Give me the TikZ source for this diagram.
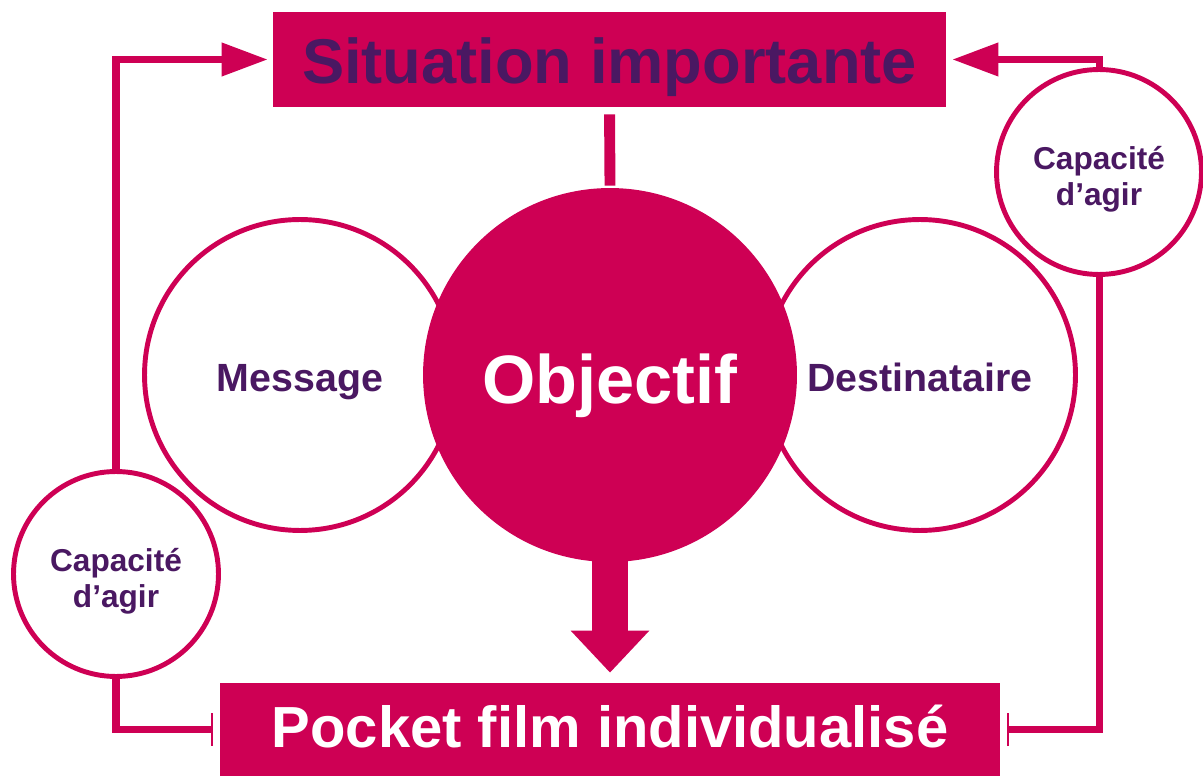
\documentclass[tikz,border=0pt]{standalone}
\usepackage{fontspec}
\setmainfont{Liberation Sans}
\usetikzlibrary{arrows.meta}
\definecolor{rose}{RGB}{206,0,84}
\definecolor{prune}{RGB}{74,24,98}

\begin{document}
\begin{tikzpicture}[x=0.02cm, y=-0.02cm,
	boite/.style={fill=rose, inner sep=0pt, text depth=0pt, font=\bfseries},
	rond/.style={circle, draw=rose, line width=2.8pt, inner sep=0pt, text=prune, font=\fontsize{22.4}{26}\selectfont\bfseries},
	grand/.style={rond, minimum size=6.22cm, text height=0.68cm, text depth=0pt},
	petit/.style={rond, minimum size=4.1cm, align=center, font=\fontsize{18}{20.6}\selectfont\bfseries},
	lien/.style={draw=rose, line width=4pt}]
	\useasboundingbox (0,0) rectangle (1203,776);
	
	\node[boite, minimum width=13.46cm, minimum height=1.9cm, text height=0.98cm, text=prune, font=\fontsize{36}{40}\selectfont\bfseries] (situation) at (609.5,59.5) {Situation importante};
	\node[boite, minimum width=15.6cm, minimum height=1.86cm, text height=0.7cm, text=white, font=\fontsize{33}{36}\selectfont\bfseries] (pocket) at (610,729.5) {Pocket film individualisé};
	
	\node[grand] (message) at (300,375) {Message};
	\node[grand] (destinataire) at (920,375) {Destinataire};
	\node[rond, fill=rose, draw=none, minimum size=7.48cm, text height=1.16cm, text depth=0pt, text=white, font=\fontsize{39}{42}\selectfont\bfseries] (objectif) at (610,375) {Objectif};
	
	\node[petit] (capaciteG) at (116,574) {\rule{0pt}{0.74cm}Capacité\\d’agir};
	\node[petit] (capaciteD) at (1099,172) {\rule{0pt}{0.74cm}Capacité\\d’agir};
	
	% liens
	\draw[lien, line width=6.2pt, shorten <=0.14cm] (situation.south) -- (objectif.north);
	\draw[lien, line width=20.4pt, -{Triangle[length=0.84cm, width=1.52cm]}, shorten >=0.2cm] ([yshift=0.2cm]objectif.south) -- (pocket.north);
	
	\draw[lien, -{Triangle[length=0.92cm, width=0.64cm]}, shorten >=0.1cm] (capaciteG.north) |- (situation.west);
	\draw[lien, -{Triangle[length=0.92cm, width=0.64cm]}, shorten >=0.12cm] (capaciteD.north) |- (situation.east);
	\draw[lien, -{Bar[width=0.66cm, line width=1pt]}, shorten >=0.14cm] (capaciteG.south) |- (pocket.west);
	\draw[lien, -{Bar[width=0.66cm, line width=1pt]}, shorten >=0.14cm] (capaciteD.south) |- (pocket.east);
	
\end{tikzpicture}
\end{document}
